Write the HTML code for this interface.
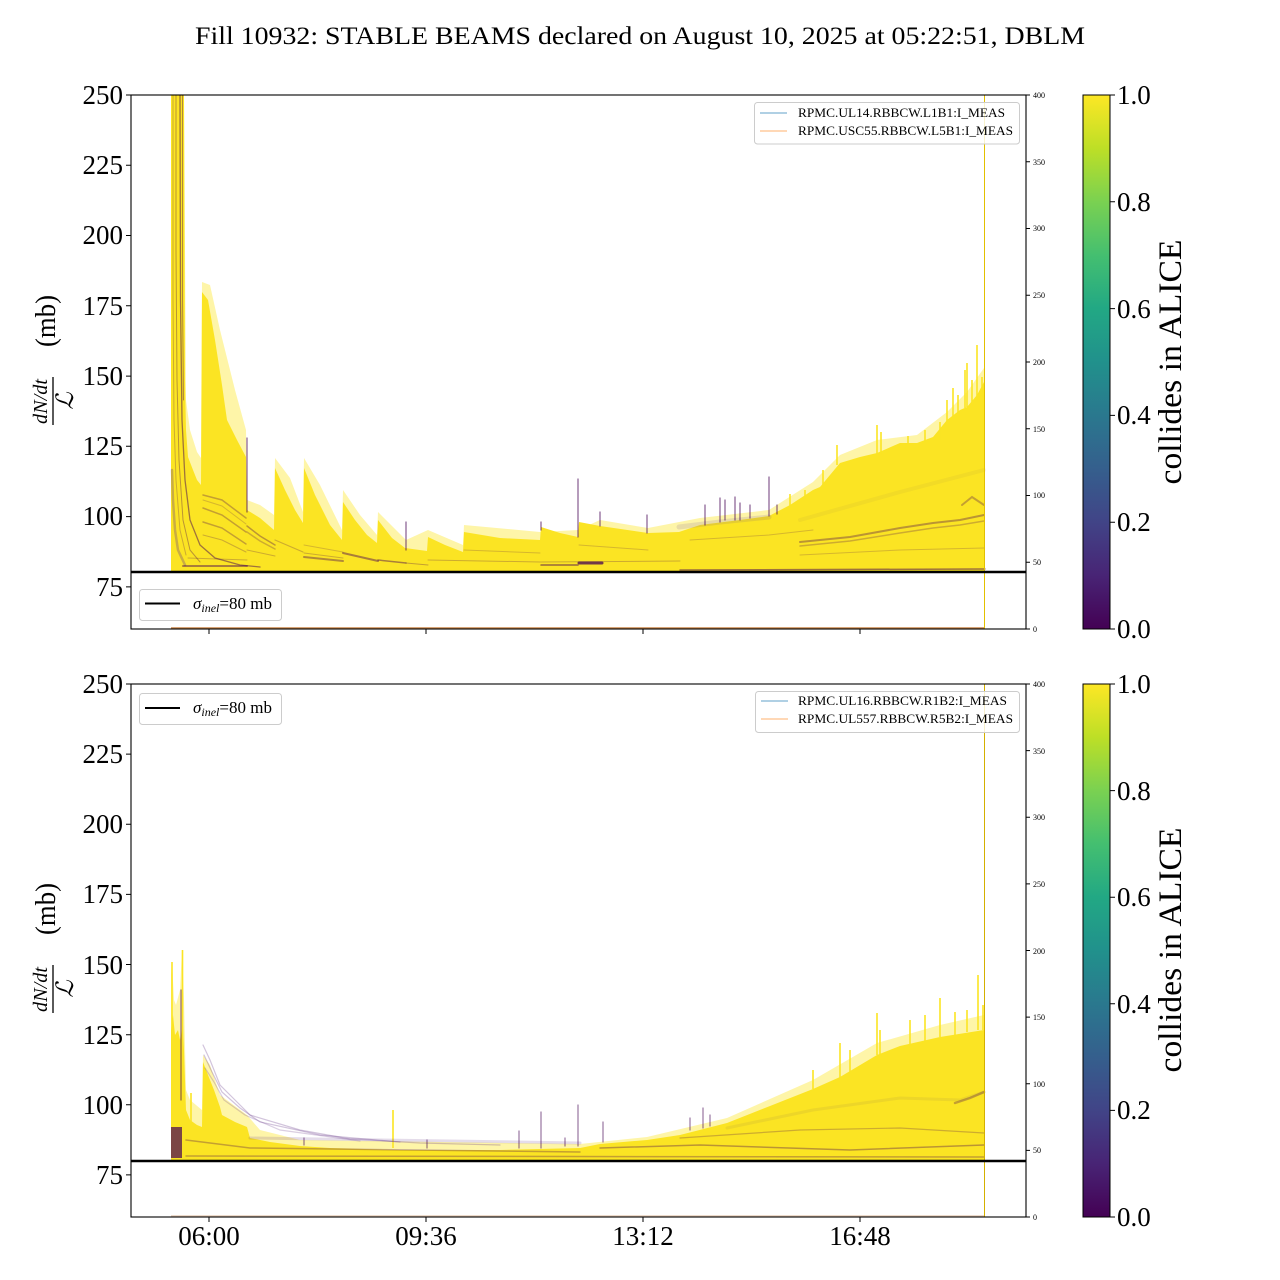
<!DOCTYPE html>
<html><head><meta charset="utf-8"><style>
html,body{margin:0;padding:0;background:#fff;}
svg{display:block;}
text{font-family:"Liberation Serif","DejaVu Serif",serif;fill:#000;}
</style></head><body>
<svg width="1280" height="1280" viewBox="0 0 1280 1280" xmlns="http://www.w3.org/2000/svg">
<defs>
<linearGradient id="vir" x1="0" y1="1" x2="0" y2="0">
<stop offset="0" stop-color="#440154"/><stop offset="0.1" stop-color="#482475"/><stop offset="0.2" stop-color="#414487"/><stop offset="0.3" stop-color="#355f8d"/><stop offset="0.4" stop-color="#2a788e"/><stop offset="0.5" stop-color="#21918c"/><stop offset="0.6" stop-color="#22a884"/><stop offset="0.7" stop-color="#44bf70"/><stop offset="0.8" stop-color="#7ad151"/><stop offset="0.9" stop-color="#bddf26"/><stop offset="1" stop-color="#fde725"/>
</linearGradient>
<clipPath id="c1"><rect x="131" y="95" width="895" height="534"/></clipPath>
<clipPath id="c2"><rect x="131" y="684" width="895" height="533"/></clipPath>
</defs>
<rect width="1280" height="1280" fill="#fff"/>

<text x="195" y="44" font-size="25" textLength="890" lengthAdjust="spacingAndGlyphs">Fill 10932: STABLE BEAMS declared on August 10, 2025 at 05:22:51, DBLM</text>

<!-- ============ TOP PLOT ============ -->
<g clip-path="url(#c1)">
<polygon fill="#fde725" fill-opacity="0.4" points="171,572 171,95 184,95 186,400 190,430 197,452 201,458 202,282 210,285 220,330 235,390 246,430 247,500 260,505 274,515 275,458 290,478 303,512 304,458 320,485 342,530 343,490 360,515 377,535 378,512 406,540 428,530 463,545 464,525 540,532 578,530 600,520 648,528 700,518 769,510 813,482 840,455 877,440 917,435 947,412 967,392 984,368 984,572"/>
<polygon fill="#fbe423" points="171,572 171,95 184,95 185,380 186,430 188,457 193,470 197,480 201,485 202,292 208,300 215,340 222,385 227,420 237,440 246,457 247,510 260,518 274,530 275,468 285,490 295,510 303,523 304,468 315,495 330,525 342,540 343,502 355,520 367,535 377,543 378,520 392,538 405,548 427,551 428,537 445,545 463,552 464,532 500,538 540,540 541,527 560,533 578,537 579,522 600,526 648,533 679,532 700,525 740,520 769,516 790,505 813,490 820,487 840,463 860,457 877,453 900,443 917,443 933,437 947,420 960,410 967,407 977,395 984,382 984,572"/>
<g stroke="#fbe423" stroke-width="1.6" fill="none">
<path d="M837 465V445M877 455V425M881 455V432M908 445V436M925 443V430M940 440V422M947 422V400M953 418V388M958 414V395M965 408V370M967 407V363M972 402V380M977 398V345M982 392V377M805 500V490M823 487V470M790 506V494"/>
</g>
<g fill="none" stroke="#440154" stroke-linecap="round">
<polyline points="180,95 180.5,300 182,420 185,480 190,520 200,545 215,558 240,565 260,567" stroke-width="1.3" stroke-opacity="0.5"/>
<polyline points="182.5,95 182.5,300 183.5,400" stroke-width="1" stroke-opacity="0.4"/>
<polyline points="176,95 176,250 177,380 179,460 183,520 190,550 200,562" stroke-width="1" stroke-opacity="0.35"/>
<polyline points="173,95 173,300 174,420 176,480 180,530 186,555" stroke-width="1" stroke-opacity="0.25"/>
<polyline points="172,470 173,500 175,530 178,550 185,565" stroke="#5b2d8a" stroke-width="2.5" stroke-opacity="0.3"/>
<polyline points="203,495 222,500 246,518" stroke-width="1.5" stroke-opacity="0.3"/>
<polyline points="203,500 222,506 246,524" stroke-width="1" stroke-opacity="0.2"/>
<polyline points="203,508 222,515 246,532" stroke-width="1.5" stroke-opacity="0.3"/>
<polyline points="203,522 222,528 246,544" stroke-width="1.5" stroke-opacity="0.3"/>
<polyline points="203,535 222,540 246,552" stroke-width="1" stroke-opacity="0.25"/>
<polyline points="183,566 247,566" stroke-width="2" stroke-opacity="0.45"/>
<polyline points="188,558 247,560" stroke-width="1" stroke-opacity="0.25"/>
<polyline points="247,526 260,536 275,545" stroke-width="1.5" stroke-opacity="0.35"/>
<polyline points="247,532 260,541 275,549" stroke-width="1.5" stroke-opacity="0.25"/>
<polyline points="247,550 275,556" stroke-width="1" stroke-opacity="0.25"/>
<polyline points="275,540 303,552" stroke-width="1.2" stroke-opacity="0.25"/>
<polyline points="304,557 343,561" stroke-width="2" stroke-opacity="0.4"/>
<polyline points="304,553 343,558" stroke-width="1" stroke-opacity="0.25"/>
<polyline points="304,545 343,552" stroke-width="1" stroke-opacity="0.2"/>
<polyline points="343,553 378,561" stroke-width="2" stroke-opacity="0.45"/>
<polyline points="378,560 406,563" stroke-width="1.5" stroke-opacity="0.45"/>
<polyline points="406,563 428,565" stroke-width="1" stroke-opacity="0.3"/>
<polyline points="428,560 540,562 680,561" stroke-width="1" stroke-opacity="0.25"/>
<polyline points="464,550 540,553" stroke-width="1" stroke-opacity="0.2"/>
<polyline points="541,565 578,565" stroke-width="1.5" stroke-opacity="0.55"/>
<polyline points="579,563 602,563" stroke-width="3" stroke-opacity="0.75"/>
<polyline points="579,545 648,550" stroke-width="1" stroke-opacity="0.2"/>
<polyline points="680,570 985,569" stroke-width="1.5" stroke-opacity="0.5"/>
<polyline points="679,527 720,522 769,517" stroke="#6b4c8a" stroke-width="5" stroke-opacity="0.15"/>
<polyline points="690,540 769,535 813,530" stroke-width="1" stroke-opacity="0.2"/>
<polyline points="800,542 850,537 900,528 933,523 960,520 984,515" stroke-width="2" stroke-opacity="0.35"/>
<polyline points="800,546 850,541 900,533 933,528 960,525 984,521" stroke-width="1.5" stroke-opacity="0.25"/>
<polyline points="800,555 900,550 984,548" stroke-width="1" stroke-opacity="0.2"/>
<polyline points="800,520 900,492 984,470" stroke="#8a7050" stroke-width="4" stroke-opacity="0.08"/>
<polyline points="962,505 972,497 984,505" stroke-width="2" stroke-opacity="0.3"/>
<path d="M247 512V438M406 550V522M541 530V522M578 537V479M705 525V505M720 522V498M725 520V500M735 520V497M740 520V503M750 518V505M769 516V477M777 514V505M647 533V515M600 526V512" stroke-width="1.2" stroke-opacity="0.65"/>
</g>
<polyline points="171,628 984,628" stroke="#c8864a" stroke-width="1.5" fill="none"/>
</g>
<line x1="984.5" y1="95" x2="984.5" y2="629" stroke="#e2c000" stroke-width="1"/>
<line x1="131" y1="572" x2="1026" y2="572" stroke="#000" stroke-width="2.5"/>
<rect x="131" y="95" width="895" height="534" fill="none" stroke="#000" stroke-width="1.1"/>

<g stroke="#000" stroke-width="1">
<path d="M126 95H131M126 165.3H131M126 235.5H131M126 305.8H131M126 376.1H131M126 446.3H131M126 516.6H131M126 586.9H131"/>
<path d="M209 629V634M426 629V634M643 629V634M860 629V634"/>
<path d="M1026 629H1030M1026 562.25H1030M1026 495.5H1030M1026 428.75H1030M1026 362H1030M1026 295.25H1030M1026 228.5H1030M1026 161.75H1030M1026 95H1030"/>
</g>
<g font-size="27" text-anchor="end">
<text x="123" y="104">250</text><text x="123" y="174">225</text><text x="123" y="244">200</text><text x="123" y="315">175</text><text x="123" y="385">150</text><text x="123" y="455">125</text><text x="123" y="525">100</text><text x="123" y="596">75</text>
</g>
<g font-size="8">
<text x="1033" y="632">0</text><text x="1033" y="565">50</text><text x="1033" y="498">100</text><text x="1033" y="432">150</text><text x="1033" y="365">200</text><text x="1033" y="298">250</text><text x="1033" y="231">300</text><text x="1033" y="165">350</text><text x="1033" y="98">400</text>
</g>
<g transform="translate(0,362) rotate(-90)">
<text x="15" y="55" font-size="28" textLength="52" lengthAdjust="spacingAndGlyphs">(mb)</text>
<text x="-62" y="47" font-size="20" font-style="italic" textLength="45" lengthAdjust="spacingAndGlyphs">dN/dt</text>
<line x1="-63" y1="53" x2="-15" y2="53" stroke="#000" stroke-width="1.3"/>
<text x="-39" y="73" font-size="24" font-style="italic" text-anchor="middle" font-family="DejaVu Serif, serif">ℒ</text>
</g>
<rect x="754.5" y="102.5" width="265" height="41.5" rx="3" fill="#fff" fill-opacity="0.8" stroke="#cccccc" stroke-width="1"/>
<line x1="760" y1="113" x2="787" y2="113" stroke="#1f77b4" stroke-opacity="0.7" stroke-width="1"/>
<line x1="760" y1="131" x2="787" y2="131" stroke="#ff7f0e" stroke-opacity="0.6" stroke-width="1"/>
<text x="798" y="117" font-size="13" textLength="207" lengthAdjust="spacingAndGlyphs">RPMC.UL14.RBBCW.L1B1:I_MEAS</text>
<text x="798" y="135" font-size="13" textLength="215" lengthAdjust="spacingAndGlyphs">RPMC.USC55.RBBCW.L5B1:I_MEAS</text>
<rect x="139.5" y="589.5" width="142" height="31" rx="3" fill="#fff" fill-opacity="0.8" stroke="#cccccc" stroke-width="1"/>
<line x1="145" y1="603.5" x2="180" y2="603.5" stroke="#000" stroke-width="2"/>
<text x="193" y="609" font-size="17"><tspan font-style="italic">σ</tspan><tspan font-style="italic" font-size="12" dy="3">inel</tspan><tspan dy="-3">=80 mb</tspan></text>

<rect x="1083" y="95" width="27" height="534" fill="url(#vir)"/>
<rect x="1083" y="95" width="27" height="534" fill="none" stroke="#000" stroke-width="1"/>
<g stroke="#000" stroke-width="1"><path d="M1110 95H1115M1110 201.8H1115M1110 308.6H1115M1110 415.4H1115M1110 522.2H1115M1110 629H1115"/></g>
<g font-size="27">
<text x="1117" y="104">1.0</text><text x="1117" y="211">0.8</text><text x="1117" y="318">0.6</text><text x="1117" y="424">0.4</text><text x="1117" y="531">0.2</text><text x="1117" y="638">0.0</text>
</g>
<text transform="translate(1181,362) rotate(-90)" text-anchor="middle" font-size="33" textLength="245" lengthAdjust="spacingAndGlyphs">collides in ALICE</text>

<!-- ============ BOTTOM PLOT ============ -->
<g clip-path="url(#c2)">
<polygon fill="#fde725" fill-opacity="0.4" points="171,1161 171,975 172,962 174,1000 176,1005 180,990 182,950 184,1000 186,1090 190,1100 202,1110 203,1055 210,1065 220,1095 247,1115 260,1130 300,1140 580,1144 647,1137 727,1118 813,1080 877,1043 940,1025 984,1015 984,1161"/>
<polygon fill="#fbe423" points="171,1161 171,1030 173,1015 175,1035 178,1030 180,1040 183,1025 184,1050 186,1110 190,1120 197,1125 202,1127 203,1062 208,1075 214,1090 220,1107 222,1115 235,1122 247,1127 250,1138 270,1142 300,1146 330,1148 400,1150 500,1150 580,1148 600,1144 647,1140 680,1135 727,1123 770,1106 813,1089 840,1077 877,1055 900,1046 940,1037 984,1030 984,1161"/>
<g stroke="#fbe423" stroke-width="1.6" fill="none">
<path d="M172 1100V962M182.5 1100V950M191 1125V1093M393 1148V1110M840 1078V1043M877 1055V1013M880 1055V1030M910 1046V1020M925 1042V1015M940 1037V998M955 1035V1012M967 1032V1010M978 1030V975M983 1030V1005M813 1089V1070M850 1072V1050"/>
</g>
<g fill="none" stroke="#440154" stroke-linecap="round">
<rect x="171" y="1127" width="11" height="31" fill="#440154" fill-opacity="0.7" stroke="none"/>
<path d="M181 990V1100" stroke-width="1.3" stroke-opacity="0.55"/>
<polyline points="203,1045 210,1060 220,1085 235,1100 250,1115 300,1130 350,1139 420,1143 500,1145" stroke="#6a3d8a" stroke-width="1.2" stroke-opacity="0.3"/>
<polyline points="204,1055 212,1072 222,1092 240,1108 260,1122 320,1135 400,1142" stroke="#6a3d8a" stroke-width="1.2" stroke-opacity="0.3"/>
<polyline points="205,1068 214,1082 224,1100 245,1115 280,1130 360,1141" stroke="#6a3d8a" stroke-width="1.2" stroke-opacity="0.25"/>
<polyline points="250,1138 580,1143" stroke="#6a3d8a" stroke-width="3" stroke-opacity="0.18"/>
<polyline points="186,1140 250,1148 580,1152" stroke-width="1.5" stroke-opacity="0.3"/>
<polyline points="186,1156 984,1157" stroke-width="1.5" stroke-opacity="0.3"/>
<polyline points="600,1148 700,1145 850,1150 984,1145" stroke-width="1.5" stroke-opacity="0.35"/>
<polyline points="680,1138 800,1130 900,1128 984,1133" stroke-width="1.2" stroke-opacity="0.25"/>
<polyline points="727,1128 813,1110 900,1098 960,1100 984,1092" stroke="#8a7050" stroke-width="3" stroke-opacity="0.12"/>
<polyline points="955,1103 970,1098 984,1092" stroke-width="2.5" stroke-opacity="0.3"/>
<path d="M541 1148V1112M578 1146V1105M603 1142V1122M519 1148V1131M427 1148V1140M304 1145V1138M565 1146V1138M703 1128V1108M710 1126V1115M690 1130V1118" stroke-width="1.2" stroke-opacity="0.55"/>
</g>
<polyline points="171,1216 984,1216" stroke="#e6cdb8" stroke-width="1.5" fill="none"/>
</g>
<line x1="984.5" y1="684" x2="984.5" y2="1217" stroke="#d4b000" stroke-width="1"/>
<line x1="131" y1="1161" x2="1026" y2="1161" stroke="#000" stroke-width="2.5"/>
<rect x="131" y="684" width="895" height="533" fill="none" stroke="#000" stroke-width="1.1"/>

<g stroke="#000" stroke-width="1">
<path d="M126 684H131M126 754.1H131M126 824.3H131M126 894.4H131M126 964.5H131M126 1034.7H131M126 1104.8H131M126 1174.9H131"/>
<path d="M209 1217V1222M426 1217V1222M643 1217V1222M860 1217V1222"/>
<path d="M1026 1217H1030M1026 1150.4H1030M1026 1083.8H1030M1026 1017.1H1030M1026 950.5H1030M1026 883.9H1030M1026 817.3H1030M1026 750.6H1030M1026 684H1030"/>
</g>
<g font-size="27" text-anchor="end">
<text x="123" y="693">250</text><text x="123" y="763">225</text><text x="123" y="833">200</text><text x="123" y="903">175</text><text x="123" y="974">150</text><text x="123" y="1044">125</text><text x="123" y="1114">100</text><text x="123" y="1184">75</text>
</g>
<g font-size="27" text-anchor="middle">
<text x="209" y="1245">06:00</text><text x="426" y="1245">09:36</text><text x="643" y="1245">13:12</text><text x="860" y="1245">16:48</text>
</g>
<g font-size="8">
<text x="1033" y="1220">0</text><text x="1033" y="1153">50</text><text x="1033" y="1087">100</text><text x="1033" y="1020">150</text><text x="1033" y="954">200</text><text x="1033" y="887">250</text><text x="1033" y="820">300</text><text x="1033" y="754">350</text><text x="1033" y="687">400</text>
</g>
<g transform="translate(0,950) rotate(-90)">
<text x="15" y="55" font-size="28" textLength="52" lengthAdjust="spacingAndGlyphs">(mb)</text>
<text x="-62" y="47" font-size="20" font-style="italic" textLength="45" lengthAdjust="spacingAndGlyphs">dN/dt</text>
<line x1="-63" y1="53" x2="-15" y2="53" stroke="#000" stroke-width="1.3"/>
<text x="-39" y="73" font-size="24" font-style="italic" text-anchor="middle" font-family="DejaVu Serif, serif">ℒ</text>
</g>
<rect x="755.5" y="691.5" width="264" height="41" rx="3" fill="#fff" fill-opacity="0.8" stroke="#cccccc" stroke-width="1"/>
<line x1="761" y1="701" x2="788" y2="701" stroke="#1f77b4" stroke-opacity="0.7" stroke-width="1"/>
<line x1="761" y1="719" x2="788" y2="719" stroke="#ff7f0e" stroke-opacity="0.6" stroke-width="1"/>
<text x="798" y="705" font-size="13" textLength="209" lengthAdjust="spacingAndGlyphs">RPMC.UL16.RBBCW.R1B2:I_MEAS</text>
<text x="798" y="723" font-size="13" textLength="215" lengthAdjust="spacingAndGlyphs">RPMC.UL557.RBBCW.R5B2:I_MEAS</text>
<rect x="139.5" y="693.5" width="142" height="31" rx="3" fill="#fff" fill-opacity="0.8" stroke="#cccccc" stroke-width="1"/>
<line x1="145" y1="708" x2="180" y2="708" stroke="#000" stroke-width="2"/>
<text x="193" y="713" font-size="17"><tspan font-style="italic">σ</tspan><tspan font-style="italic" font-size="12" dy="3">inel</tspan><tspan dy="-3">=80 mb</tspan></text>

<rect x="1083" y="684" width="27" height="533" fill="url(#vir)"/>
<rect x="1083" y="684" width="27" height="533" fill="none" stroke="#000" stroke-width="1"/>
<g stroke="#000" stroke-width="1"><path d="M1110 684H1115M1110 790.6H1115M1110 897.2H1115M1110 1003.8H1115M1110 1110.4H1115M1110 1217H1115"/></g>
<g font-size="27">
<text x="1117" y="693">1.0</text><text x="1117" y="800">0.8</text><text x="1117" y="906">0.6</text><text x="1117" y="1013">0.4</text><text x="1117" y="1119">0.2</text><text x="1117" y="1226">0.0</text>
</g>
<text transform="translate(1181,950) rotate(-90)" text-anchor="middle" font-size="33" textLength="245" lengthAdjust="spacingAndGlyphs">collides in ALICE</text>
</svg>
</body></html>
